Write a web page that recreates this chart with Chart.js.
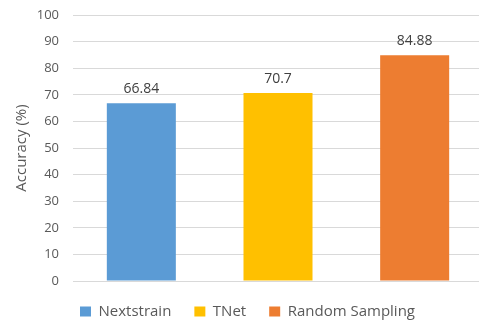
<!DOCTYPE html>
<html>
<head>
<meta charset="utf-8">
<script src="https://cdn.jsdelivr.net/npm/chart.js@4/dist/chart.umd.min.js"></script>
<style>
  html, body { margin: 0; padding: 0; background: #fff; overflow: hidden; }
  #wrap { width: 484px; height: 322px; position: relative; }
</style>
</head>
<body>
<div id="wrap"><canvas id="c"></canvas></div>
<script>
// Accuracy of each sampling method
const methods = ['Nextstrain', 'TNet', 'Random Sampling'];
const accuracy = [66.84, 70.7, 84.88];
const barColors = ['#5B9BD5', '#FFC000', '#ED7D31'];
const yTicks = [0, 10, 20, 30, 40, 50, 60, 70, 80, 90, 100];

const FONT = '"Open Sans", "DejaVu Sans", sans-serif';

// Writes each bar's value just above its top
const valueLabels = {
  id: 'valueLabels',
  afterDatasetsDraw(chart) {
    const ctx = chart.ctx;
    const meta = chart.getDatasetMeta(0);
    ctx.save();
    ctx.font = '14px ' + FONT;
    ctx.fillStyle = '#404040';
    ctx.textAlign = 'center';
    ctx.textBaseline = 'bottom';
    meta.data.forEach((bar, i) => {
      ctx.fillText(String(accuracy[i]), bar.x, bar.y - 7);
    });
    ctx.restore();
  }
};

new Chart(document.getElementById('c'), {
  type: 'bar',
  data: {
    labels: methods,
    datasets: [{
      label: 'Accuracy',
      data: accuracy,
      backgroundColor: barColors,
      borderWidth: 0,
      categoryPercentage: 1,
      barPercentage: 0.505
    }]
  },
  options: {
    responsive: true,
    maintainAspectRatio: false,
    animation: false,
    layout: { padding: { top: 15, right: 1, bottom: -7, left: 12 } },
    plugins: {
      tooltip: { enabled: false },
      legend: {
        position: 'bottom',
        labels: {
          font: { family: FONT, size: 15 },
          color: '#595959',
          boxWidth: 11,
          boxHeight: 10,
          padding: 23,
          generateLabels(chart) {
            return methods.map((m, i) => ({
              text: m,
              fillStyle: barColors[i],
              strokeStyle: barColors[i],
              lineWidth: 0,
              fontColor: '#595959',
              hidden: false,
              index: i,
              datasetIndex: 0
            }));
          }
        }
      }
    },
    scales: {
      x: {
        display: false
      },
      y: {
        min: 0,
        max: 100,
        afterBuildTicks(scale) {
          scale.ticks = yTicks.map(v => ({ value: v }));
        },
        afterFit(scale) {
          scale.width = 61;
          scale.paddingTop = 0;
          scale.paddingBottom = 0;
        },
        border: { display: false },
        grid: { color: '#D9D9D9', lineWidth: 1, drawTicks: false },
        ticks: {
          font: { family: FONT, size: 13 },
          color: '#595959',
          padding: 14
        },
        title: {
          display: true,
          text: 'Accuracy (%)',
          font: { family: FONT, size: 15 },
          color: '#595959',
          padding: { top: 1, bottom: 0 }
        }
      }
    }
  },
  plugins: [valueLabels]
});
</script>
</body>
</html>
